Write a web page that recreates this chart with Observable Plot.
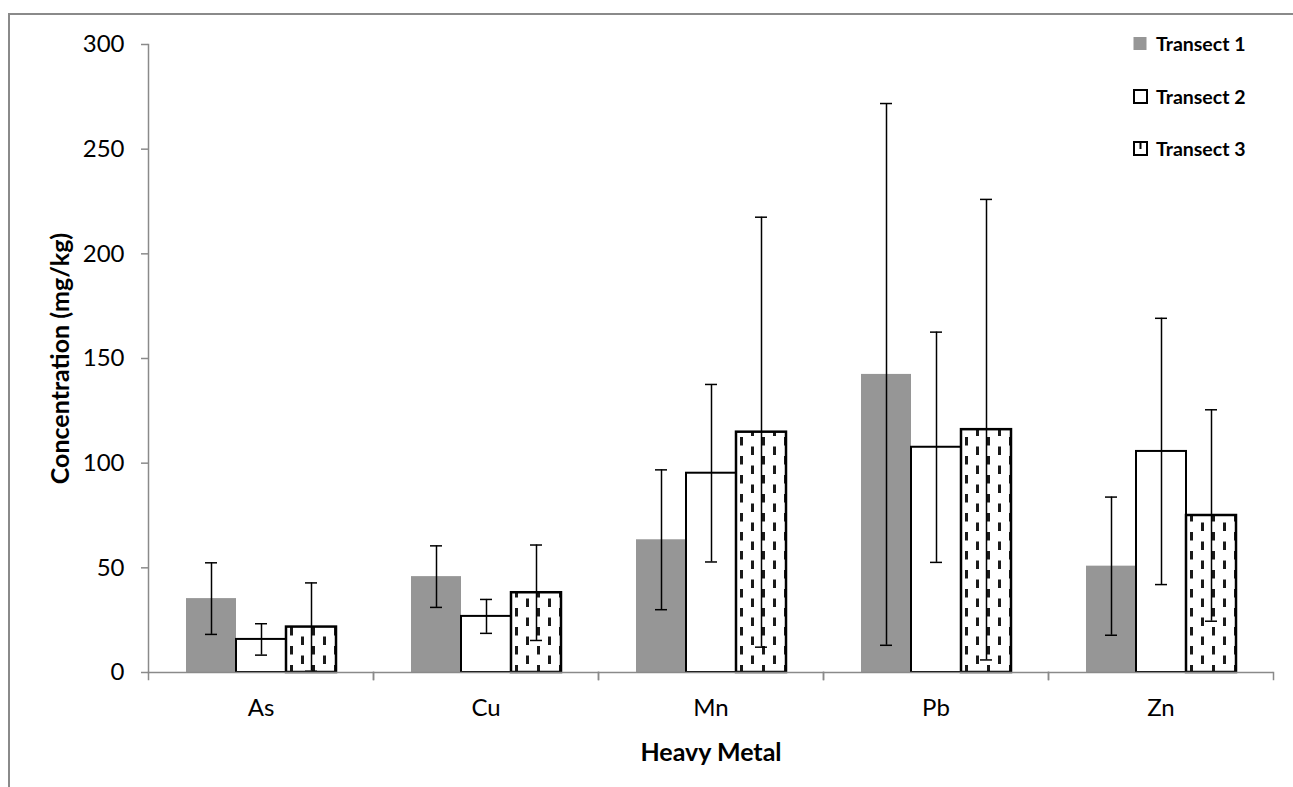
<!DOCTYPE html>
<html><head><meta charset="utf-8">
<script src="https://cdn.jsdelivr.net/npm/d3@7"></script>
<script src="https://cdn.jsdelivr.net/npm/@observablehq/plot@0.6"></script>
<style>
html,body{margin:0;padding:0;background:#fff;overflow:hidden;}
#wrap{position:relative;width:1293px;height:787px;overflow:hidden;}
#border{position:absolute;left:8px;top:13px;width:1300px;height:800px;border-top:2px solid #8a8a8a;border-left:2px solid #8a8a8a;}
#chart{position:absolute;left:0;top:0;}
.item{position:absolute;left:1133px;height:24px;display:flex;align-items:center;font-family:Lato,sans-serif;font-weight:bold;font-size:19.5px;color:#000;}
.item svg{margin-right:8px;}
</style></head>
<body><div id="wrap"><div id="border"></div><div id="chart"></div><div id="legend"></div></div>
<script>
const metals = ["As", "Cu", "Mn", "Pb", "Zn"];
const transects = ["Transect 1", "Transect 2", "Transect 3"];
const t1 = [35.3, 45.8, 63.4, 142.4, 50.8];
const t1err = [17.1, 14.7, 33.4, 129.4, 33.0];
const t2 = [15.8, 26.8, 95.2, 107.6, 105.6];
const t2err = [7.5, 8.1, 42.4, 55.0, 63.6];
const t3 = [21.7, 38.1, 114.8, 116.0, 75.0];
const t3err = [21.1, 22.8, 102.7, 110.0, 50.5];
const yTicks = [0, 50, 100, 150, 200, 250, 300];

const values = [t1, t2, t3];
const errors = [t1err, t2err, t3err];
const rows = [];
metals.forEach((m, i) => transects.forEach((t, j) => rows.push({metal: m, transect: t, value: values[j][i], err: errors[j][i]})));

const axisGray = "#8a8a8a";
const chart = Plot.plot({
  width: 1293, height: 787,
  marginLeft: 148, marginRight: 20, marginTop: 44, marginBottom: 115,
  style: {fontFamily: "Lato, sans-serif", fontSize: "24px", color: "#000", background: "transparent"},
  fx: {domain: metals, padding: 0},
  x: {domain: transects, paddingInner: 0, paddingOuter: 0.75, axis: null},
  y: {domain: [0, 300]},
  marks: [
    Plot.barY(rows, {filter: d => d.transect === transects[0], fx: "metal", x: "transect", y: "value", fill: "#969696"}),
    Plot.barY(rows, {filter: d => d.transect === transects[1], fx: "metal", x: "transect", y: "value", fill: "white", stroke: "black", strokeWidth: 2}),
    Plot.barY(rows, {filter: d => d.transect === transects[2], fx: "metal", x: "transect", y: "value", fill: "url(#dashPattern)", stroke: "black", strokeWidth: 2.5}),
    Plot.ruleX(rows, {fx: "metal", x: "transect", y1: d => d.value - d.err, y2: d => d.value + d.err, stroke: "black", strokeWidth: 1.5}),
    Plot.tickY(rows, {fx: "metal", x: "transect", y: d => d.value + d.err, insetLeft: 19, insetRight: 19, stroke: "black", strokeWidth: 1.5}),
    Plot.tickY(rows, {fx: "metal", x: "transect", y: d => d.value - d.err, insetLeft: 19, insetRight: 19, stroke: "black", strokeWidth: 1.5}),
    Plot.ruleY([0], {stroke: axisGray, strokeWidth: 1.5}),
    Plot.frame({anchor: "left", insetTop: 628, insetBottom: -7, stroke: axisGray, strokeWidth: 1.5}),
    Plot.frame({anchor: "right", insetTop: 628, insetBottom: -7, stroke: axisGray, strokeWidth: 1.5}),
    Plot.frame({anchor: "left", facetAnchor: "left", stroke: axisGray, strokeWidth: 1.5}),
    Plot.axisY({ticks: yTicks, tickSize: 7, tickPadding: 17, stroke: axisGray, strokeWidth: 1.5, label: null, fontSize: 24, tickFormat: d => String(d)}),
    Plot.axisFx({anchor: "bottom", tickSize: 0, tickPadding: 26, label: null, fontSize: 24}),
    Plot.text(["Heavy Metal"], {frameAnchor: "bottom", dy: 80, lineAnchor: "middle", facet: "super", fontWeight: "bold", fontSize: 25}),
    Plot.text(["Concentration (mg/kg)"], {frameAnchor: "left", dx: -88, rotate: -90, textAnchor: "middle", lineAnchor: "middle", facet: "super", fontWeight: "bold", fontSize: 25})
  ]
});

const svg = d3.select(chart);
const defs = svg.insert("defs", ":first-child");
const pat = defs.append("pattern").attr("id", "dashPattern").attr("patternUnits", "userSpaceOnUse")
  .attr("width", 22).attr("height", 19);
pat.append("rect").attr("width", 22).attr("height", 19).attr("fill", "white");
pat.append("rect").attr("x", 4).attr("y", 0).attr("width", 3).attr("height", 8.5).attr("fill", "#1a1a1a");
pat.append("rect").attr("x", 15).attr("y", 9.5).attr("width", 3).attr("height", 8.5).attr("fill", "#1a1a1a");
document.getElementById("chart").appendChild(chart);

// legend
const legendTops = [31, 84, 136];
const legend = d3.select("#legend");
transects.forEach((t, j) => {
  const item = legend.append("div").attr("class", "item").style("top", legendTops[j] + "px");
  const s = item.append("svg").attr("width", 15).attr("height", 15);
  if (j === 0) {
    s.append("rect").attr("x", 0.5).attr("y", 1).attr("width", 13).attr("height", 13).attr("fill", "#969696");
  } else {
    s.append("rect").attr("x", 1).attr("y", 1).attr("width", 13).attr("height", 13).attr("fill", "white").attr("stroke", "black").attr("stroke-width", 2);
    if (j === 2) s.append("line").attr("x1", 7.5).attr("x2", 7.5).attr("y1", 1).attr("y2", 8).attr("stroke", "black").attr("stroke-width", 2);
  }
  item.append("span").text(t);
});
</script>
</body></html>
